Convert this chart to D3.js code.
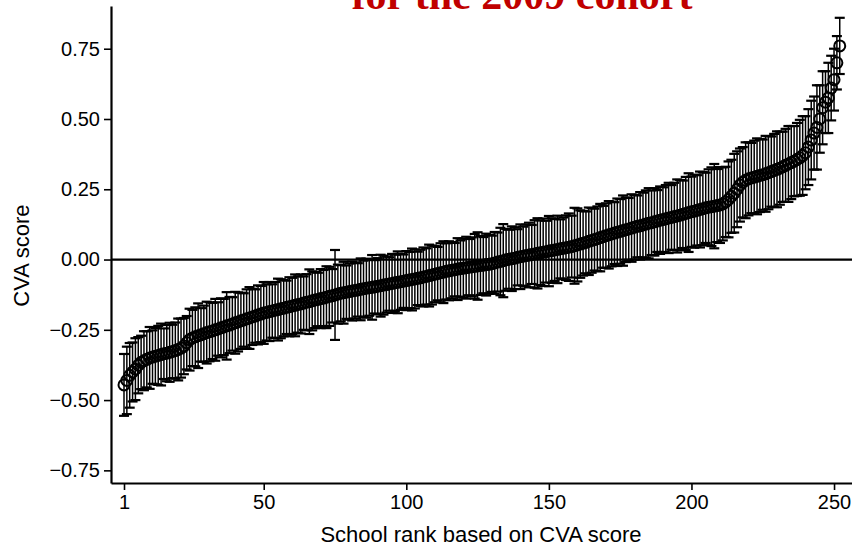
<!DOCTYPE html>
<html>
<head>
<meta charset="utf-8">
<script src="https://cdn.jsdelivr.net/npm/d3@7"></script>
<style>
    body { margin: 0; background: #fff; }
    #chart { width: 852px; height: 546px; }
    .axis text { font-family: "Liberation Sans", Arial, sans-serif; font-size: 20px; fill: #000; }
    .axis path, .axis line { stroke: #000; }
</style>
</head>
<body>
<div id="chart"></div>
<script>

// CVA score of each school, ordered by rank (1..252)
const cvaScore = [
    -0.446, -0.430, -0.412, -0.400, -0.390, -0.376, -0.366, -0.360, -0.355, -0.350,
    -0.347, -0.344, -0.341, -0.338, -0.335, -0.333, -0.330, -0.327, -0.324, -0.320,
    -0.315, -0.308, -0.296, -0.285, -0.279, -0.275, -0.271, -0.268, -0.264, -0.260,
    -0.257, -0.254, -0.250, -0.247, -0.243, -0.240, -0.236, -0.233, -0.229, -0.225,
    -0.222, -0.218, -0.215, -0.211, -0.208, -0.204, -0.201, -0.197, -0.194, -0.190,
    -0.188, -0.185, -0.183, -0.180, -0.178, -0.175, -0.173, -0.170, -0.168, -0.165,
    -0.163, -0.160, -0.158, -0.155, -0.152, -0.150, -0.147, -0.144, -0.142, -0.139,
    -0.137, -0.134, -0.131, -0.129, -0.126, -0.123, -0.120, -0.118, -0.116, -0.114,
    -0.112, -0.110, -0.108, -0.106, -0.104, -0.102, -0.100, -0.099, -0.097, -0.095,
    -0.093, -0.091, -0.089, -0.087, -0.085, -0.083, -0.081, -0.079, -0.077, -0.075,
    -0.073, -0.071, -0.069, -0.067, -0.065, -0.062, -0.060, -0.057, -0.055, -0.052,
    -0.050, -0.047, -0.045, -0.042, -0.040, -0.038, -0.036, -0.034, -0.032, -0.031,
    -0.029, -0.027, -0.026, -0.024, -0.023, -0.021, -0.020, -0.018, -0.017, -0.015,
    -0.012, -0.009, -0.007, -0.004, -0.001, 0.001, 0.003, 0.005, 0.008, 0.010,
    0.012, 0.014, 0.016, 0.018, 0.020, 0.022, 0.024, 0.026, 0.028, 0.030,
    0.032, 0.034, 0.036, 0.038, 0.040, 0.042, 0.044, 0.046, 0.049, 0.052,
    0.055, 0.058, 0.061, 0.065, 0.068, 0.071, 0.074, 0.078, 0.081, 0.085,
    0.088, 0.091, 0.094, 0.097, 0.100, 0.103, 0.106, 0.109, 0.112, 0.115,
    0.118, 0.120, 0.123, 0.126, 0.129, 0.131, 0.134, 0.137, 0.140, 0.142,
    0.145, 0.148, 0.150, 0.153, 0.155, 0.158, 0.161, 0.164, 0.167, 0.170,
    0.172, 0.175, 0.178, 0.181, 0.184, 0.186, 0.188, 0.190, 0.192, 0.194,
    0.198, 0.205, 0.214, 0.225, 0.236, 0.250, 0.265, 0.275, 0.282, 0.287,
    0.290, 0.293, 0.296, 0.299, 0.302, 0.305, 0.309, 0.313, 0.317, 0.321,
    0.325, 0.330, 0.335, 0.340, 0.345, 0.350, 0.356, 0.362, 0.370, 0.380,
    0.400, 0.425, 0.450, 0.470, 0.500, 0.540, 0.560, 0.575, 0.610, 0.640,
    0.700, 0.760
];

// half width of the confidence interval, same order
const ciHalf = [
    0.110, 0.120, 0.115, 0.105, 0.110, 0.100, 0.095, 0.105, 0.100, 0.110,
    0.095, 0.100, 0.105, 0.110, 0.090, 0.100, 0.105, 0.095, 0.100, 0.110,
    0.105, 0.100, 0.095, 0.110, 0.100, 0.105, 0.115, 0.095, 0.100, 0.110,
    0.105, 0.100, 0.110, 0.095, 0.105, 0.100, 0.120, 0.100, 0.095, 0.110,
    0.105, 0.100, 0.095, 0.105, 0.110, 0.100, 0.095, 0.105, 0.100, 0.110,
    0.100, 0.105, 0.095, 0.100, 0.110, 0.105, 0.100, 0.095, 0.105, 0.100,
    0.110, 0.100, 0.105, 0.095, 0.100, 0.115, 0.105, 0.100, 0.095, 0.105,
    0.100, 0.110, 0.105, 0.095, 0.160, 0.105, 0.100, 0.110, 0.095, 0.100,
    0.105, 0.100, 0.095, 0.110, 0.100, 0.105, 0.100, 0.115, 0.095, 0.100,
    0.110, 0.105, 0.100, 0.095, 0.105, 0.100, 0.110, 0.100, 0.095, 0.105,
    0.100, 0.110, 0.105, 0.095, 0.100, 0.105, 0.100, 0.110, 0.105, 0.100,
    0.095, 0.105, 0.110, 0.100, 0.105, 0.100, 0.095, 0.110, 0.100, 0.105,
    0.110, 0.100, 0.105, 0.115, 0.120, 0.105, 0.100, 0.110, 0.105, 0.100,
    0.110, 0.105, 0.120, 0.130, 0.110, 0.105, 0.115, 0.110, 0.100, 0.115,
    0.105, 0.110, 0.115, 0.105, 0.120, 0.125, 0.115, 0.120, 0.110, 0.125,
    0.115, 0.110, 0.120, 0.105, 0.110, 0.115, 0.120, 0.110, 0.135, 0.130,
    0.120, 0.115, 0.110, 0.120, 0.115, 0.110, 0.115, 0.120, 0.110, 0.115,
    0.120, 0.115, 0.110, 0.120, 0.115, 0.125, 0.115, 0.110, 0.120, 0.115,
    0.110, 0.120, 0.115, 0.120, 0.125, 0.115, 0.120, 0.110, 0.120, 0.115,
    0.120, 0.125, 0.115, 0.120, 0.130, 0.125, 0.120, 0.130, 0.140, 0.125,
    0.130, 0.125, 0.135, 0.130, 0.125, 0.135, 0.140, 0.150, 0.130, 0.135,
    0.130, 0.125, 0.135, 0.130, 0.140, 0.135, 0.130, 0.125, 0.135, 0.130,
    0.125, 0.130, 0.135, 0.130, 0.125, 0.135, 0.130, 0.125, 0.130, 0.135,
    0.130, 0.125, 0.130, 0.135, 0.130, 0.125, 0.130, 0.135, 0.140, 0.130,
    0.135, 0.140, 0.130, 0.150, 0.120, 0.130, 0.110, 0.125, 0.115, 0.110,
    0.095, 0.100
];

const yTicks = [-0.75, -0.5, -0.25, 0, 0.25, 0.5, 0.75];
const xTicks = [1, 50, 100, 150, 200, 250];

const titleText = "for the 2009 cohort";
const xTitle = "School rank based on CVA score";
const yTitle = "CVA score";


class CaterpillarVis {

    constructor(parentElement) {
        this.parentElement = parentElement;
        this.displayData = [];
        this.initVis();
    }

    initVis() {
        let vis = this;

        vis.margin = {top: 6, right: 0, bottom: 63, left: 111};
        vis.width = 852 - vis.margin.left - vis.margin.right;
        vis.height = 546 - vis.margin.top - vis.margin.bottom;

        vis.root = d3.select("#" + vis.parentElement).append("svg")
            .attr("width", 852)
            .attr("height", 546);

        vis.svg = vis.root.append("g")
            .attr("transform", `translate(${vis.margin.left}, ${vis.margin.top})`);

        // scales (plot region runs a bit past the data, stata style)
        vis.x = d3.scaleLinear()
            .domain([-3.56, 256.3])
            .range([0, vis.width]);

        vis.y = d3.scaleLinear()
            .domain([-0.795, 0.902])
            .range([vis.height, 0]);

        vis.xAxis = d3.axisBottom(vis.x)
            .tickValues(xTicks)
            .tickSize(7)
            .tickSizeOuter(0)
            .tickPadding(5);

        vis.yAxis = d3.axisLeft(vis.y)
            .tickValues(yTicks)
            .tickFormat(d3.format(".2f"))
            .tickSize(7)
            .tickSizeOuter(0)
            .tickPadding(4);

        vis.wrangleData();
    }

    wrangleData() {
        let vis = this;

        vis.displayData = cvaScore.map((v, i) => ({
            rank: i + 1,
            score: v,
            lo: v - ciHalf[i],
            hi: v + ciHalf[i]
        }));

        vis.updateVis();
    }

    updateVis() {
        let vis = this;
        let capW = 5;

        // zero reference line
        vis.svg.append("line")
            .attr("x1", 0)
            .attr("x2", vis.width)
            .attr("y1", vis.y(0))
            .attr("y2", vis.y(0))
            .attr("stroke", "#000")
            .attr("stroke-width", 2.2);

        // error bars
        let bars = vis.svg.append("g").attr("class", "ci-group")
            .selectAll(".ci")
            .data(vis.displayData)
            .enter()
            .append("g")
            .attr("class", "ci")
            .attr("stroke", "#000")
            .attr("stroke-width", 1.5);

        bars.append("line")
            .attr("x1", d => vis.x(d.rank))
            .attr("x2", d => vis.x(d.rank))
            .attr("y1", d => vis.y(d.lo))
            .attr("y2", d => vis.y(d.hi));

        bars.append("line")
            .attr("x1", d => vis.x(d.rank) - capW)
            .attr("x2", d => vis.x(d.rank) + capW)
            .attr("y1", d => vis.y(d.hi))
            .attr("y2", d => vis.y(d.hi))
            .attr("stroke-width", 2.2);

        bars.append("line")
            .attr("x1", d => vis.x(d.rank) - capW)
            .attr("x2", d => vis.x(d.rank) + capW)
            .attr("y1", d => vis.y(d.lo))
            .attr("y2", d => vis.y(d.lo))
            .attr("stroke-width", 2.2);

        // point estimates, hollow circles
        vis.svg.append("g").attr("class", "points")
            .selectAll("circle")
            .data(vis.displayData)
            .enter()
            .append("circle")
            .attr("cx", d => vis.x(d.rank))
            .attr("cy", d => vis.y(d.score))
            .attr("r", 5.5)
            .attr("fill", "none")
            .attr("stroke", "#000")
            .attr("stroke-width", 2);

        // axes
        let gx = vis.svg.append("g")
            .attr("class", "x axis")
            .attr("transform", `translate(0, ${vis.height})`)
            .call(vis.xAxis);
        gx.select(".domain").attr("stroke-width", 2.2);
        gx.selectAll(".tick line").attr("stroke-width", 1.6);

        let gy = vis.svg.append("g")
            .attr("class", "y axis")
            .call(vis.yAxis);
        gy.select(".domain").attr("stroke-width", 2.2);
        gy.selectAll(".tick line").attr("stroke-width", 1.6);

        // axis titles
        vis.svg.append("text")
            .attr("x", 481 - vis.margin.left)
            .attr("y", vis.height + 59)
            .attr("text-anchor", "middle")
            .style("font-family", "'Liberation Sans', Arial, sans-serif")
            .style("font-size", "22px")
            .text(xTitle);

        vis.svg.append("text")
            .attr("transform", `translate(${29 - vis.margin.left}, ${vis.y(0) - 4}) rotate(-90)`)
            .attr("text-anchor", "middle")
            .style("font-family", "'Liberation Sans', Arial, sans-serif")
            .style("font-size", "22px")
            .text(yTitle);

        // title, cut off at the top like the source slide
        vis.root.append("text")
            .attr("x", 522)
            .attr("y", 9)
            .attr("text-anchor", "middle")
            .style("font-family", "'Liberation Serif', 'Times New Roman', serif")
            .style("font-weight", "bold")
            .style("font-size", "42px")
            .attr("fill", "#c00000")
            .text(titleText);
    }
}

let caterpillar = new CaterpillarVis("chart");

</script>
</body>
</html>
